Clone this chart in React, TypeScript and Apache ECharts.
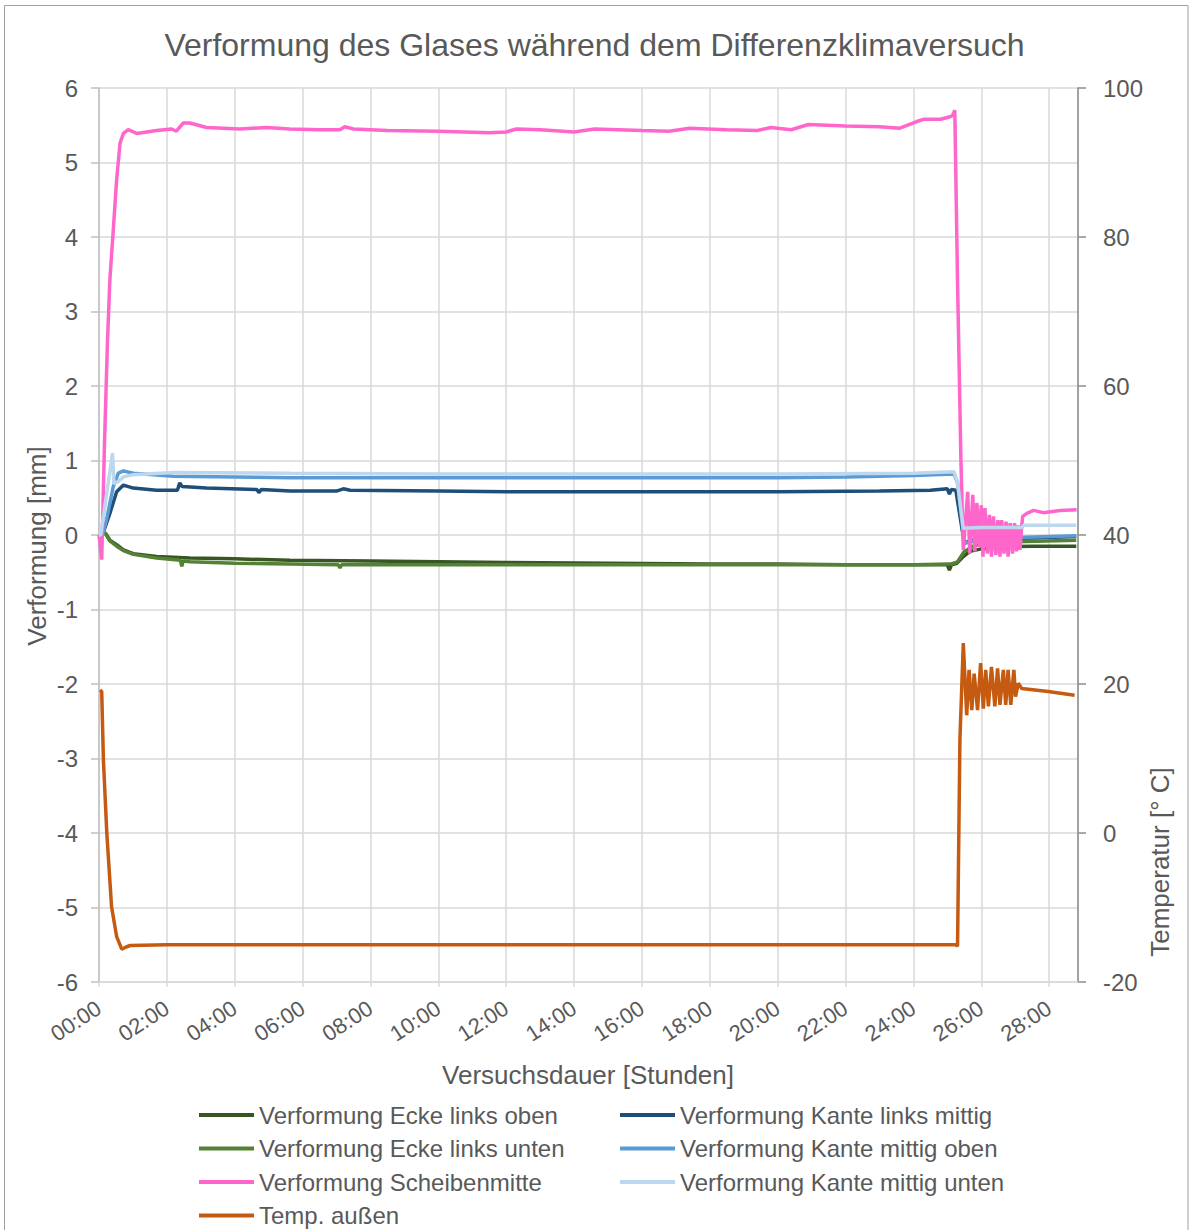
import React, { useEffect, useRef } from "react";
import * as echarts from "echarts";

// time in hours, value in mm (left axis) or °C (right axis)
const eckeLinksOben: number[][] = [[0.15,0.0],[0.18,0.03],[0.32,-0.07],[0.52,-0.13],[0.72,-0.2],[1.01,-0.25],[1.7,-0.29],[2.68,-0.31],[4,-0.32],[5.63,-0.34],[8,-0.35],[10,-0.36],[12,-0.37],[15,-0.38],[18,-0.39],[20,-0.39],[22,-0.40],[24,-0.40],[25.0,-0.40],[25.06,-0.47],[25.12,-0.40],[25.28,-0.38],[25.47,-0.29],[25.67,-0.22],[26.06,-0.18],[26.55,-0.16],[27.5,-0.15],[28.8,-0.15]];
const eckeLinksUnten: number[][] = [[0.15,0.0],[0.18,0.03],[0.32,-0.08],[0.52,-0.15],[0.72,-0.21],[1.01,-0.26],[1.7,-0.31],[2.4,-0.34],[2.44,-0.42],[2.48,-0.35],[2.68,-0.36],[4,-0.38],[5.63,-0.39],[7.05,-0.40],[7.1,-0.44],[7.15,-0.40],[10,-0.40],[15,-0.40],[20,-0.40],[24,-0.40],[25.1,-0.39],[25.3,-0.36],[25.5,-0.22],[25.8,-0.14],[26.3,-0.10],[27,-0.09],[28.8,-0.07]];
const scheibenmitte: number[][] = [[0,0],[0.08,-0.33],[0.16,1.2],[0.25,2.6],[0.32,3.42],[0.42,4.09],[0.52,4.77],[0.62,5.26],[0.72,5.39],[0.86,5.44],[1.11,5.39],[1.7,5.43],[2.14,5.45],[2.28,5.42],[2.48,5.53],[2.68,5.53],[3.17,5.47],[4.15,5.45],[4.93,5.47],[5.62,5.45],[6.5,5.44],[7.1,5.44],[7.24,5.48],[7.5,5.45],[8.5,5.43],[10,5.42],[11.5,5.40],[12.0,5.41],[12.3,5.45],[13,5.44],[14,5.41],[14.6,5.45],[16,5.43],[16.8,5.42],[17.4,5.46],[18.5,5.44],[19.4,5.43],[19.8,5.47],[20.4,5.44],[20.9,5.51],[22,5.49],[23,5.48],[23.6,5.46],[24.1,5.55],[24.3,5.58],[24.8,5.58],[25.05,5.61],[25.15,5.63],[25.22,5.70],[25.3,3.4],[25.4,1.0],[25.47,-0.2],[25.6,0.58],[25.66,-0.25],[25.75,0.54],[25.81,-0.22],[25.87,0.43],[25.94,-0.16],[26.0,0.40],[26.05,-0.29],[26.11,0.36],[26.18,-0.25],[26.24,0.27],[26.3,-0.29],[26.36,0.25],[26.43,-0.27],[26.49,0.20],[26.55,-0.29],[26.6,0.20],[26.67,-0.25],[26.73,0.18],[26.79,-0.29],[26.85,0.16],[26.92,-0.25],[26.98,0.16],[27.04,-0.22],[27.09,0.13],[27.14,-0.20],[27.19,0.11],[27.22,0.25],[27.34,0.29],[27.54,0.33],[27.83,0.30],[28.32,0.33],[28.81,0.34]];
const kanteLinksMittig: number[][] = [[0.1,0],[0.32,0.29],[0.52,0.58],[0.72,0.67],[1.01,0.63],[1.7,0.60],[2.31,0.60],[2.38,0.70],[2.45,0.65],[3.17,0.63],[4.65,0.61],[4.72,0.57],[4.78,0.61],[5.63,0.59],[7.0,0.59],[7.2,0.62],[7.4,0.60],[10,0.59],[12,0.58],[16,0.58],[20,0.58],[23,0.59],[24.5,0.60],[25.0,0.62],[25.06,0.55],[25.12,0.61],[25.25,0.6],[25.5,-0.11],[25.7,-0.07],[26.5,-0.05],[27.5,-0.04],[28.8,-0.02]];
const kanteMittigOben: number[][] = [[0.1,0],[0.22,0.2],[0.42,0.65],[0.57,0.83],[0.72,0.86],[1.01,0.83],[2.19,0.79],[5.63,0.77],[10,0.77],[15,0.77],[20,0.77],[22,0.78],[24,0.80],[25.2,0.82],[25.3,0.7],[25.5,-0.11],[25.87,-0.07],[26.55,-0.04],[28.8,-0.01]];
const kanteMittigUnten: number[][] = [[0,0],[0.05,0.0],[0.4,1.1],[0.44,0.69],[0.57,0.72],[0.72,0.78],[1.01,0.81],[2.19,0.84],[5.63,0.83],[10,0.82],[15,0.82],[20,0.82],[24,0.83],[25.2,0.85],[25.3,0.7],[25.47,0.09],[26,0.1],[27.2,0.1],[27.25,0.13],[28.8,0.13]];
const tempAussen: number[][] = [[0.03,19.2],[0.08,19.0],[0.13,9.8],[0.23,0.0],[0.37,-9.9],[0.52,-13.9],[0.67,-15.6],[0.8,-15.3],[0.92,-15.1],[2,-15.0],[5,-15.0],[10,-15.0],[15,-15.0],[20,-15.0],[25.25,-15.0],[25.3,-15.2],[25.37,12.5],[25.47,25.5],[25.57,15.8],[25.64,21.9],[25.72,16.5],[25.79,21.4],[25.89,16.5],[25.98,22.8],[26.06,16.7],[26.13,21.9],[26.21,17.0],[26.3,22.3],[26.4,17.0],[26.48,22.1],[26.55,17.2],[26.65,21.9],[26.72,17.2],[26.79,21.9],[26.87,17.2],[26.96,21.9],[27.01,18.3],[27.09,20.1],[27.19,19.4],[27.97,19.0],[28.75,18.5]];

const seriesNames = [
  "Verformung Ecke links oben",
  "Verformung Kante links mittig",
  "Verformung Ecke links unten",
  "Verformung Kante mittig oben",
  "Verformung Scheibenmitte",
  "Verformung Kante mittig unten",
  "Temp. außen",
];
const seriesColors = ["#375623", "#1f4e79", "#548235", "#5b9bd5", "#ff66cc", "#bdd7ee", "#c55a11"];
const seriesData = [eckeLinksOben, kanteLinksMittig, eckeLinksUnten, kanteMittigOben, scheibenmitte, kanteMittigUnten, tempAussen];
const seriesAxis = [0, 0, 0, 0, 0, 0, 1];

const title = "Verformung des Glases während dem Differenzklimaversuch";
const xName = "Versuchsdauer [Stunden]";
const yLeftName = "Verformung [mm]";
const yRightName = "Temperatur [° C]";

const FONT = "'Liberation Sans', Arial, sans-serif";
const TXT = "#595959";
const GRID = "#d9d9d9";

export default function App() {
  const ref = useRef<HTMLDivElement>(null);
  useEffect(() => {
    document.body.style.margin = "0";
    const chart = echarts.init(ref.current!, undefined, { renderer: "svg" });
    const fmt = (v: number) => {
      if (Math.abs(v - Math.round(v)) > 1e-6 || Math.round(v) % 2 !== 0 || v > 28.01) return "";
      const h = Math.round(v);
      return (h < 10 ? "0" + h : "" + h) + ":00";
    };
    const legendBase = {
      orient: "vertical",
      top: 1103,
      padding: 0,
      itemWidth: 55,
      itemHeight: 4,
      itemGap: 9.5,
      icon: "rect",
      selectedMode: false,
      height: 127,
      textStyle: { fontSize: 24, color: TXT, fontFamily: FONT, lineHeight: 24 },
    };
    chart.setOption({
      animation: false,
      textStyle: { fontFamily: FONT },
      title: {
        text: title,
        left: "center",
        top: 24,
        textStyle: { fontFamily: FONT, fontSize: 32, fontWeight: "normal", color: TXT },
      },
      grid: { left: 99, top: 88, right: 111, bottom: 248, containLabel: false },
      xAxis: {
        type: "value",
        min: 0,
        max: 28.85,
        interval: 2,
        axisLine: { show: true, onZero: false, lineStyle: { color: GRID, width: 1.5 } },
        axisTick: { show: true, length: 5, lineStyle: { color: GRID, width: 1.5 } },
        splitLine: { show: true, lineStyle: { color: GRID, width: 1.5 } },
        axisLabel: {
          formatter: fmt,
          rotate: 33,
          margin: 24,
          fontSize: 22,
          color: TXT,
          fontFamily: FONT,
          showMaxLabel: false,
        },
      },
      yAxis: [
        {
          type: "value",
          min: -6,
          max: 6,
          interval: 1,
          axisLine: { show: true, onZero: false, lineStyle: { color: "#bfbfbf", width: 1.5 } },
          axisTick: { show: true, length: 8, lineStyle: { color: "#bfbfbf", width: 1.5 } },
          splitLine: { show: true, lineStyle: { color: GRID, width: 1.5 } },
          axisLabel: { fontSize: 24, color: TXT, margin: 21, fontFamily: FONT },
        },
        {
          type: "value",
          position: "right",
          min: -20,
          max: 100,
          interval: 20,
          axisLine: { show: true, onZero: false, lineStyle: { color: "#8c8c8c", width: 1.5 } },
          axisTick: { show: true, length: 8, lineStyle: { color: "#8c8c8c", width: 1.5 } },
          splitLine: { show: false },
          axisLabel: { fontSize: 24, color: TXT, margin: 25, fontFamily: FONT },
        },
      ],
      legend: [
        { ...legendBase, left: 199, data: [seriesNames[0], seriesNames[2], seriesNames[4], seriesNames[6]] },
        { ...legendBase, left: 620, data: [seriesNames[1], seriesNames[3], seriesNames[5]] },
      ],
      series: seriesNames.map((name, i) => ({
        name,
        type: "line",
        yAxisIndex: seriesAxis[i],
        data: seriesData[i],
        showSymbol: false,
        symbol: "none",
        color: seriesColors[i],
        lineStyle: { color: seriesColors[i], width: 3.5 },
        z: 2 + i,
      })),
      graphic: [
        {
          type: "rect",
          shape: { x: 4.5, y: 5.5, width: 1183.5, height: 1240 },
          style: { fill: "none", stroke: "#a0a0a0", lineWidth: 1 },
          silent: true,
          z: 0,
        },
        {
          type: "text",
          x: 588,
          y: 1075,
          style: { text: xName, fontSize: 26, fill: TXT, align: "center", verticalAlign: "middle", fontFamily: FONT },
        },
        {
          type: "text",
          x: 37,
          y: 546,
          rotation: Math.PI / 2,
          style: { text: yLeftName, fontSize: 26, fill: TXT, align: "center", verticalAlign: "middle", fontFamily: FONT },
        },
        {
          type: "text",
          x: 1160,
          y: 862,
          rotation: Math.PI / 2,
          style: { text: yRightName, fontSize: 26, fill: TXT, align: "center", verticalAlign: "middle", fontFamily: FONT },
        },
      ],
    });
    return () => chart.dispose();
  }, []);
  return <div ref={ref} style={{ width: 1189, height: 1230 }} />;
}
